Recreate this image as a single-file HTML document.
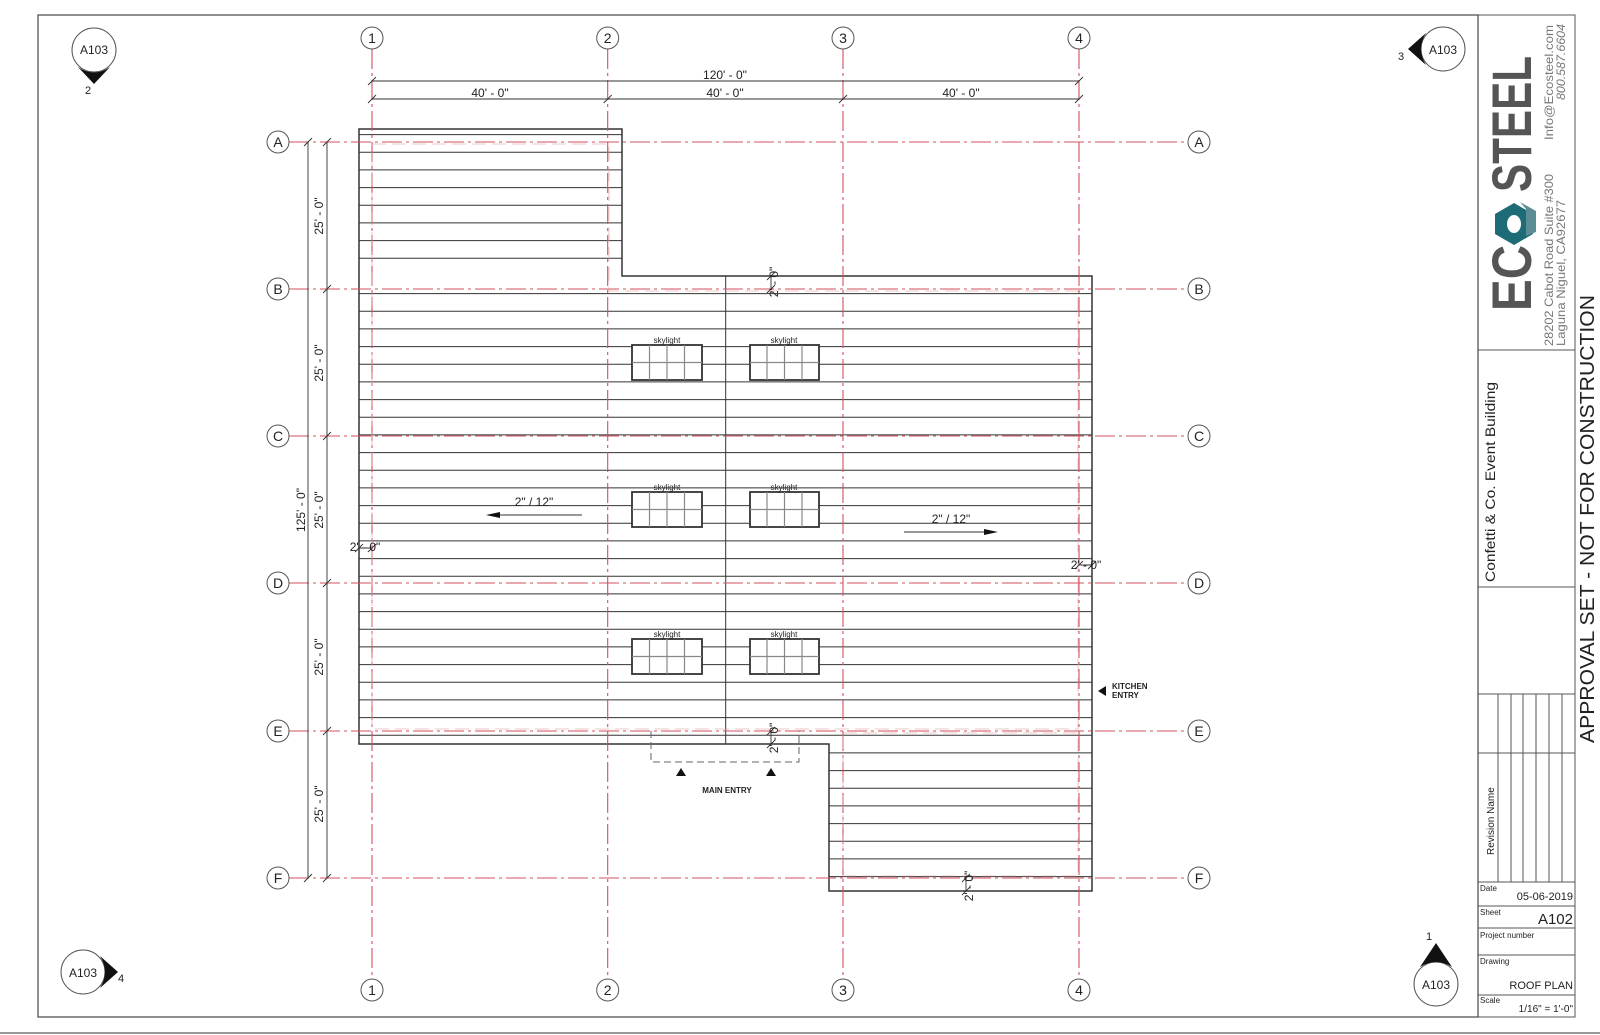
<!DOCTYPE html>
<html><head><meta charset="utf-8"><style>
html,body{margin:0;padding:0;background:#fff;width:1600px;height:1035px;overflow:hidden}
svg{display:block}
text{font-family:"Liberation Sans",Arial,sans-serif;fill:#222}
</style></head><body>
<svg width="1600" height="1035" viewBox="0 0 1600 1035" xmlns="http://www.w3.org/2000/svg">
<rect x="38" y="15" width="1440" height="1002" fill="none" stroke="#555" stroke-width="1.3"/>
<line x1="0" y1="1033" x2="1600" y2="1033" stroke="#777" stroke-width="1.5"/>

<g stroke="#333" stroke-width="1">
<path d="M359 134.6H622M359 152.3H622M359 169.9H622M359 187.6H622M359 205.3H622M359 222.9H622M359 240.6H622M359 258.3H622"/>
<path d="M359 293.6H1092M359 311.3H1092M359 328.9H1092M359 346.6H1092M359 364.3H1092M359 381.9H1092M359 399.6H1092M359 417.3H1092M359 434.9H1092M359 452.6H1092M359 470.3H1092M359 487.9H1092M359 505.6H1092M359 523.3H1092M359 540.9H1092M359 558.6H1092M359 576.3H1092M359 593.9H1092M359 611.6H1092M359 629.3H1092M359 646.9H1092M359 664.6H1092M359 682.3H1092M359 699.9H1092M359 717.6H1092M359 735.3H1092"/>
<path d="M829 752.9H1092M829 770.6H1092M829 788.3H1092M829 805.9H1092M829 823.6H1092M829 841.3H1092M829 858.9H1092M829 876.6H1092"/>
<line x1="725.7" y1="276" x2="725.7" y2="744"/>
</g>
<path d="M359 129H622V276H1092V891H829V744H359Z" fill="none" stroke="#333" stroke-width="1.5"/>

<g fill="#fff" stroke="#333" stroke-width="1.8">
<rect x="632" y="345" width="70" height="35"/><rect x="750" y="345" width="69" height="35"/>
<rect x="632" y="492" width="70" height="35"/><rect x="750" y="492" width="69" height="35"/>
<rect x="632" y="639" width="70" height="35"/><rect x="750" y="639" width="69" height="35"/>
</g>
<g stroke="#888" stroke-width="1.2">
<path d="M649.5 345V380M667 345V380M684.5 345V380M632 362.5H702M767 345V380M784.5 345V380M802 345V380M750 362.5H819"/>
<path d="M649.5 492V527M667 492V527M684.5 492V527M632 509.5H702M767 492V527M784.5 492V527M802 492V527M750 509.5H819"/>
<path d="M649.5 639V674M667 639V674M684.5 639V674M632 656.5H702M767 639V674M784.5 639V674M802 639V674M750 656.5H819"/>
</g>
<g font-size="8" text-anchor="middle">
<text x="667" y="343">skylight</text><text x="784" y="343">skylight</text>
<text x="667" y="490">skylight</text><text x="784" y="490">skylight</text>
<text x="667" y="637">skylight</text><text x="784" y="637">skylight</text>
</g>

<g stroke="#d0505e" stroke-width="1.1" stroke-dasharray="20 4 3 4" fill="none">
<path d="M372 49V979M607.7 49V979M843 49V979M1079 49V979"/>
<path d="M289 142H1188M289 289H1188M289 436H1188M289 583H1188M289 731H1188M289 878H1188"/>
</g>
<g stroke="#d99" stroke-width="0.8" stroke-dasharray="14 6" fill="none" opacity="0.7">
<path d="M372 144H609V291H1078V729H372ZM843 733H1078V876H843Z"/>
</g>

<g fill="#fff" stroke="#555" stroke-width="1">
<circle cx="372" cy="38" r="11"/><circle cx="607.7" cy="38" r="11"/><circle cx="843" cy="38" r="11"/><circle cx="1079" cy="38" r="11"/>
<circle cx="372" cy="990" r="11"/><circle cx="607.7" cy="990" r="11"/><circle cx="843" cy="990" r="11"/><circle cx="1079" cy="990" r="11"/>
<circle cx="278" cy="142" r="11"/><circle cx="278" cy="289" r="11"/><circle cx="278" cy="436" r="11"/><circle cx="278" cy="583" r="11"/><circle cx="278" cy="731" r="11"/><circle cx="278" cy="878" r="11"/>
<circle cx="1199" cy="142" r="11"/><circle cx="1199" cy="289" r="11"/><circle cx="1199" cy="436" r="11"/><circle cx="1199" cy="583" r="11"/><circle cx="1199" cy="731" r="11"/><circle cx="1199" cy="878" r="11"/>
</g>
<g font-size="14" text-anchor="middle">
<text x="372" y="43">1</text><text x="607.7" y="43">2</text><text x="843" y="43">3</text><text x="1079" y="43">4</text>
<text x="372" y="995">1</text><text x="607.7" y="995">2</text><text x="843" y="995">3</text><text x="1079" y="995">4</text>
<text x="278" y="147">A</text><text x="278" y="294">B</text><text x="278" y="441">C</text><text x="278" y="588">D</text><text x="278" y="736">E</text><text x="278" y="883">F</text>
<text x="1199" y="147">A</text><text x="1199" y="294">B</text><text x="1199" y="441">C</text><text x="1199" y="588">D</text><text x="1199" y="736">E</text><text x="1199" y="883">F</text>
</g>

<g stroke="#333" stroke-width="0.9">
<path d="M372 81H1079M372 99H1079M308 142V878M327 142V878"/>
<path d="M368 85L376 77M1075 85L1083 77M368 103L376 95M603.7 103L611.7 95M839 103L847 95M1075 103L1083 95"/>
<path d="M304 146L312 138M304 882L312 874M323 146L331 138M323 293L331 285M323 440L331 432M323 587L331 579M323 735L331 727M323 882L331 874"/>
<path d="M359 548H372M1079 565H1092M771 276V289M771 731V744M966 878V891"/>
<path d="M355 552L363 544M368 552L376 544M1075 569L1083 561M1088 569L1096 561M767 280L775 272M767 293L775 285M767 735L775 727M767 748L775 740M962 882L970 874M962 895L970 887"/>
</g>
<g font-size="12" text-anchor="middle">
<text x="725" y="79">120' - 0"</text>
<text x="490" y="97">40' - 0"</text><text x="725" y="97">40' - 0"</text><text x="961" y="97">40' - 0"</text>
<text transform="translate(323,216) rotate(-90)">25' - 0"</text>
<text transform="translate(323,363) rotate(-90)">25' - 0"</text>
<text transform="translate(323,510) rotate(-90)">25' - 0"</text>
<text transform="translate(323,657) rotate(-90)">25' - 0"</text>
<text transform="translate(323,804) rotate(-90)">25' - 0"</text>
<text transform="translate(305,510) rotate(-90)">125' - 0"</text>
<text x="365" y="551">2' - 0"</text>
<text x="1086" y="569">2' - 0"</text>
<text transform="translate(778,282) rotate(-90)">2' - 0"</text>
<text transform="translate(778,738) rotate(-90)">2' - 0"</text>
<text transform="translate(973,886) rotate(-90)">2' - 0"</text>
<text x="534" y="506">2" / 12"</text>
<text x="951" y="523">2" / 12"</text>
</g>
<g stroke="#333" stroke-width="0.9"><path d="M488 515H582M904 532H996"/></g>
<path d="M486 515L500 512V518Z" fill="#111"/>
<path d="M998 532L984 529V535Z" fill="#111"/>

<path d="M651 731V762H799V731" fill="none" stroke="#666" stroke-width="1" stroke-dasharray="7 4"/>
<path d="M681 768L686 776H676Z M771 768L776 776H766Z" fill="#111"/>
<text x="727" y="793" font-size="8" font-weight="bold" text-anchor="middle">MAIN ENTRY</text>
<path d="M1098 691L1106 686V696Z" fill="#111"/>
<text x="1112" y="689" font-size="8" font-weight="bold">KITCHEN</text>
<text x="1112" y="698" font-size="8" font-weight="bold">ENTRY</text>

<g fill="#fff" stroke="#555" stroke-width="1">
<circle cx="94" cy="50" r="22"/><circle cx="1443" cy="49" r="22"/><circle cx="83" cy="972" r="22"/><circle cx="1436" cy="984" r="22"/>
</g>
<path d="M78 67Q94 78 110 67L94 84Z" fill="#111"/>
<path d="M1426 33Q1416 49 1426 65L1408 49Z" fill="#111"/>
<path d="M100 956Q110 972 100 988L118 972Z" fill="#111"/>
<path d="M1420 967Q1436 957 1452 967L1436 943Z" fill="#111"/>
<g font-size="12" text-anchor="middle">
<text x="94" y="54">A103</text><text x="1443" y="54">A103</text><text x="83" y="977">A103</text><text x="1436" y="989">A103</text>
<text x="88" y="94" font-size="11">2</text><text x="1401" y="60" font-size="11">3</text><text x="121" y="982" font-size="11">4</text><text x="1429" y="940" font-size="11">1</text>
</g>

<g stroke="#555" stroke-width="1" fill="none">
<rect x="1478" y="15" width="97" height="1002"/>
<path d="M1478 350H1575M1478 587H1575M1478 694H1575M1478 882H1575M1478 906H1575M1478 928H1575M1478 955H1575M1478 995H1575"/>
<path d="M1498 694V882M1511 694V882M1523 694V882M1536 694V882M1549 694V882M1562 694V882M1478 753H1575"/>
</g>
<text transform="translate(1495,582) rotate(-90)" font-size="14" textLength="200" lengthAdjust="spacingAndGlyphs">Confetti &amp; Co. Event Building</text>
<text transform="translate(1494,855) rotate(-90)" font-size="10">Revision Name</text>
<text transform="translate(1594,743) rotate(-90)" font-size="20" textLength="448" lengthAdjust="spacingAndGlyphs">APPROVAL SET - NOT FOR CONSTRUCTION</text>
<g font-size="8">
<text x="1480" y="891">Date</text><text x="1480" y="915">Sheet</text><text x="1480" y="938">Project number</text><text x="1480" y="964">Drawing</text><text x="1480" y="1003">Scale</text>
</g>
<text x="1573" y="900" font-size="11" text-anchor="end">05-06-2019</text>
<text x="1573" y="924" font-size="15" text-anchor="end">A102</text>
<text x="1573" y="989" font-size="11" text-anchor="end">ROOF PLAN</text>
<text x="1573" y="1012" font-size="10" text-anchor="end">1/16" = 1'-0"</text>

<text transform="translate(1531,311) rotate(-90)" font-size="56" font-weight="bold" style="fill:#555" textLength="66" lengthAdjust="spacingAndGlyphs">EC</text>
<g transform="translate(1514,224)">
<polygon points="0,-21 19,-10 19,10 0,21 -19,10 -19,-10" fill="#1e6b78"/>
<ellipse cx="0" cy="0" rx="7" ry="9" fill="#fff"/>
<polygon points="6,-22 22,-13 22,8 12,12 12,-15" fill="#5d8d94"/>
</g>
<text transform="translate(1531,192) rotate(-90)" font-size="56" font-weight="bold" style="fill:#555" textLength="136" lengthAdjust="spacingAndGlyphs">STEEL</text>
<g font-size="12">
<text transform="translate(1553,346) rotate(-90)" style="fill:#777" textLength="172" lengthAdjust="spacingAndGlyphs">28202 Cabot Road Suite #300</text>
<text transform="translate(1565,346) rotate(-90)" style="fill:#777" textLength="146" lengthAdjust="spacingAndGlyphs">Laguna Niguel, CA92677</text>
<text transform="translate(1553,140) rotate(-90)" style="fill:#777" textLength="115" lengthAdjust="spacingAndGlyphs">Info@Ecosteel.com</text>
<text transform="translate(1565,100) rotate(-90)" font-style="italic" style="fill:#777" textLength="76" lengthAdjust="spacingAndGlyphs">800.587.6604</text>
</g>
</svg>
</body></html>
